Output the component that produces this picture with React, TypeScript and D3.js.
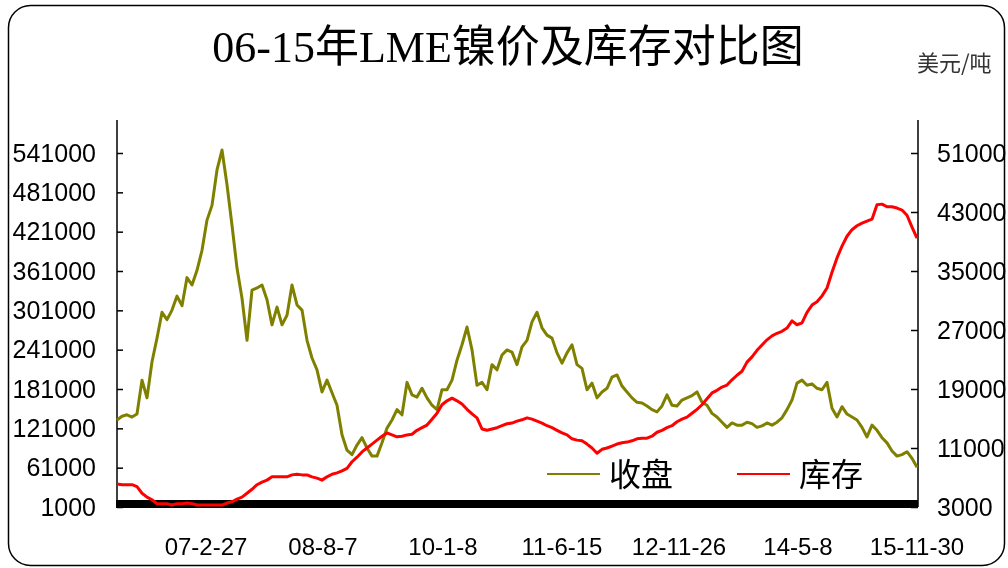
import React, { useEffect, useRef } from 'react';
import * as d3 from 'd3';

// 收盘 (USD/t), sampled evenly along the trading-day axis
const closePrice = [
  14800, 15300, 15500, 15200, 15600, 20200, 17800, 22700, 25900, 29400,
  28400, 29700, 31600, 30300, 34100, 33100, 35100, 37800, 41900, 43900,
  48700, 51400, 46700, 41200, 35400, 31300, 25600, 32400, 32700, 33100,
  31100, 27700, 30100, 27700, 29000, 33100, 30400, 29700, 25600, 23200,
  21600, 18600, 20200, 18500, 16800, 12800, 10700, 10100, 11400, 12400,
  11000, 9900, 9900, 11700, 13700, 14800, 16200, 15500, 19900, 18200,
  17900, 19100, 17800, 16800, 16200, 18900, 18900, 20200, 22900, 25000,
  27400, 24300, 19500, 19900, 18900, 22300, 21600, 23600, 24300, 24000,
  22300, 24700, 25600, 28100, 29400, 27300, 26300, 25900, 23900, 22500,
  23900, 25000, 22300, 21800, 18900, 19800, 17800, 18600, 19100, 20600,
  20900, 19400, 18600, 17800, 17200, 17100, 16700, 16200, 15900, 16700,
  18200, 16800, 16700, 17500, 17800, 18100, 18600, 17200, 16800, 15700,
  15200, 14500, 13800, 14400, 14100, 14100, 14500, 14300, 13800, 14000,
  14400, 14100, 14500, 15100, 16200, 17500, 19800, 20200, 19500, 19700,
  19100, 18900, 19900, 16400, 15200, 16600, 15600, 15200, 14800, 13800,
  12500, 14100, 13400, 12400, 11700, 10600, 9900, 10100, 10500, 9600, 8400
];

// 库存 (tonnes)
const stock = [
  36000, 35000, 35000, 35000, 32000, 22000, 16000, 12000, 6000, 6000,
  6000, 4000, 6000, 6000, 7000, 6000, 4000, 4000, 4000, 4000,
  4000, 4000, 7000, 9000, 13000, 16000, 22000, 28000, 35000, 39000,
  42000, 47000, 47000, 47000, 47000, 50000, 51000, 50000, 50000, 47000,
  45000, 42000, 47000, 51000, 53000, 56000, 60000, 70000, 77000, 85000,
  91000, 97000, 103000, 109000, 114000, 111000, 108000, 109000, 111000, 112000,
  118000, 122000, 126000, 135000, 144000, 157000, 163000, 167000, 163000, 158000,
  150000, 143000, 137000, 120000, 118000, 120000, 122000, 125000, 128000, 129000,
  132000, 134000, 137000, 135000, 132000, 129000, 125000, 122000, 118000, 114000,
  111000, 105000, 103000, 102000, 97000, 91000, 83000, 89000, 91000, 94000,
  97000, 99000, 100000, 102000, 105000, 106000, 106000, 109000, 115000, 118000,
  122000, 125000, 131000, 135000, 138000, 144000, 150000, 157000, 166000, 175000,
  179000, 184000, 187000, 195000, 202000, 208000, 222000, 230000, 240000, 248000,
  256000, 262000, 266000, 269000, 274000, 285000, 279000, 282000, 298000, 309000,
  314000, 323000, 335000, 359000, 381000, 399000, 414000, 424000, 430000, 434000,
  437000, 440000, 462000, 463000, 459000, 459000, 457000, 454000, 446000, 428000, 411000
];

const xTickLabels = ['07-2-27', '08-8-7', '10-1-8', '11-6-15', '12-11-26', '14-5-8', '15-11-30'];
const xTickIndex = [17.8, 41.2, 65.2, 89, 112.4, 136.2, 160];

const leftTicks = [1000, 61000, 121000, 181000, 241000, 301000, 361000, 421000, 481000, 541000];
const rightTicks = [3000, 11000, 19000, 27000, 35000, 43000, 51000];

const seriesNames = ['收盘', '库存'];
const seriesColors = ['#808000', '#ff0000'];

const W = 1008;
const H = 568;
const latin = '"Liberation Sans", Arial, sans-serif';

const App = () => {
  const svgRef = useRef(null);

  useEffect(() => {
    const svg = d3.select(svgRef.current);
    svg.selectAll('*').remove();

    const plot = { left: 117, right: 917, top: 120, bottom: 507, axisTop: 153 };

    const x = d3.scaleLinear().domain([0, closePrice.length - 1]).range([plot.left, plot.right]);
    const yLeft = d3.scaleLinear().domain([1000, 541000]).range([plot.bottom, plot.axisTop]);
    const yRight = d3.scaleLinear().domain([3000, 51000]).range([plot.bottom, plot.axisTop]);

    // frame
    svg.append('rect')
      .attr('x', 8.5).attr('y', 5.5)
      .attr('width', 996).attr('height', 560)
      .attr('rx', 22).attr('ry', 22)
      .attr('fill', 'white')
      .attr('stroke', '#000')
      .attr('stroke-width', 1.5);

    // title
    svg.append('text')
      .attr('x', 508).attr('y', 62)
      .attr('text-anchor', 'middle')
      .style('font-family', '"Liberation Serif", "Noto Sans CJK SC", serif')
      .style('font-size', '44px')
      .attr('fill', '#000')
      .text('06-15年LME镍价及库存对比图');

    svg.append('text')
      .attr('x', 917).attr('y', 71)
      .style('font-family', '"Noto Sans CJK SC", sans-serif')
      .style('font-size', '22px')
      .attr('fill', '#333')
      .text('美元/吨');

    // left axis
    const gl = svg.append('g')
      .attr('transform', `translate(${plot.left},0)`)
      .call(d3.axisLeft(yLeft).tickValues(leftTicks).tickFormat(d3.format('d'))
        .tickSizeInner(-6).tickSizeOuter(0).tickPadding(21));
    gl.select('.domain').remove();
    gl.append('line').attr('y1', plot.top).attr('y2', plot.bottom).attr('stroke', '#000').attr('stroke-width', 1.5);

    // right axis
    const gr = svg.append('g')
      .attr('transform', `translate(${plot.right + 1},0)`)
      .call(d3.axisRight(yRight).tickValues(rightTicks).tickFormat(d3.format('d'))
        .tickSizeInner(-7).tickSizeOuter(0).tickPadding(19));
    gr.select('.domain').remove();
    gr.append('line').attr('y1', plot.top).attr('y2', plot.bottom).attr('stroke', '#000').attr('stroke-width', 1.5);

    [gl, gr].forEach(g => {
      g.selectAll('.tick line').attr('stroke', '#000').attr('stroke-width', 1.5);
      g.selectAll('.tick text')
        .attr('fill', '#000')
        .style('font-family', latin)
        .style('font-size', '25px');
    });

    // category axis: daily ticks merge into a solid band
    svg.append('line')
      .attr('x1', plot.left - 1).attr('x2', plot.right + 1)
      .attr('y1', plot.bottom - 3).attr('y2', plot.bottom - 3)
      .attr('stroke', '#000').attr('stroke-width', 8);

    svg.append('g')
      .selectAll('text')
      .data(xTickLabels)
      .enter()
      .append('text')
      .attr('x', (d, i) => x(xTickIndex[i]))
      .attr('y', 555)
      .attr('text-anchor', 'middle')
      .style('font-family', latin)
      .style('font-size', '24px')
      .attr('fill', '#000')
      .text(d => d);

    // lines
    const priceLine = d3.line().x((d, i) => x(i)).y(d => yRight(d));
    const stockLine = d3.line().x((d, i) => x(i)).y(d => yLeft(d));

    svg.append('path')
      .datum(closePrice)
      .attr('d', priceLine)
      .attr('fill', 'none')
      .attr('stroke', seriesColors[0])
      .attr('stroke-width', 3)
      .attr('stroke-linejoin', 'round');

    svg.append('path')
      .datum(stock)
      .attr('d', stockLine)
      .attr('fill', 'none')
      .attr('stroke', seriesColors[1])
      .attr('stroke-width', 3)
      .attr('stroke-linejoin', 'round');

    // legend
    const legend = svg.append('g').attr('transform', 'translate(547,474)');
    seriesNames.forEach((name, i) => {
      const item = legend.append('g').attr('transform', `translate(${i * 190},0)`);
      item.append('line')
        .attr('x1', 0).attr('x2', 53)
        .attr('stroke', seriesColors[i])
        .attr('stroke-width', 2);
      item.append('text')
        .attr('x', 62).attr('y', 12)
        .style('font-family', '"Noto Sans CJK SC", sans-serif')
        .style('font-size', '32px')
        .attr('fill', '#000')
        .text(name);
    });
  }, []);

  return (
    <div style={{ position: 'fixed', left: 0, top: 0 }}>
      <svg ref={svgRef} width={W} height={H} style={{ display: 'block' }}></svg>
    </div>
  );
};

export default App;
